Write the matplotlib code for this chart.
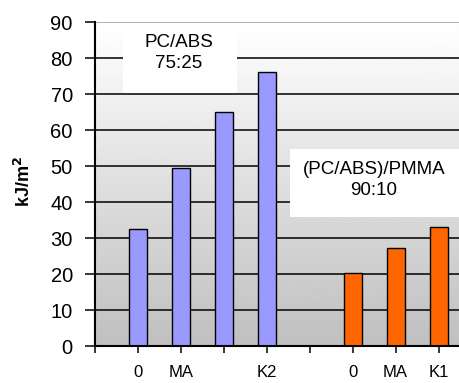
import numpy as np
import matplotlib.pyplot as plt
from matplotlib.patches import Rectangle

plt.rcParams['font.family'] = ['Liberation Sans', 'DejaVu Sans']

# 데이터
labels = ['0', 'MA', '', 'K2', '', '0', 'MA', 'K1']
pc_abs = [32.5, 49.5, 65, 76]        # PC/ABS 75:25
pmma_blend = [20.3, 27.3, 33]        # (PC/ABS)/PMMA 90:10
yticks = [0, 10, 20, 30, 40, 50, 60, 70, 80, 90]

fig = plt.figure(figsize=(4.6, 3.83), dpi=100)
ax = fig.add_axes([95 / 460, 1 - 346 / 383, 1 - 95 / 460, (346 - 22) / 383])

x_blue = np.arange(1, len(pc_abs) + 1)
x_orange = np.arange(len(labels) - len(pmma_blend) + 1, len(labels) + 1)

ax.set_xlim(0, 8.5)
ax.set_ylim(0, 90)

# 배경 그라데이션 (위: 흰색, 아래: 회색)
grad = np.linspace(1.0, 0.75, 256).reshape(-1, 1)
ax.imshow(grad, cmap='gray', vmin=0, vmax=1, aspect='auto',
          extent=[0, 8.5, 0, 90], zorder=0)

# 가로 격자선
for v in yticks[1:]:
    ax.axhline(v, color='#999999' if v == 90 else 'black', lw=1.1, zorder=1)

# 텍스트 상자 (흰 배경)
ax.add_patch(Rectangle((0.65, 70.3), 2.65, 19.3, facecolor='white',
                       edgecolor='none', zorder=2))
ax.add_patch(Rectangle((4.53, 35.8), 4.0, 18.8, facecolor='white',
                       edgecolor='none', zorder=2))
ax.text(1.95, 81.5, 'PC/ABS\n75:25', ha='center', va='center',
        fontsize=13.5, linespacing=1.3, zorder=3)
ax.text(6.5, 46.2, '(PC/ABS)/PMMA\n90:10', ha='center', va='center',
        fontsize=13.5, linespacing=1.3, zorder=3)

# 막대
ax.bar(x_blue, pc_abs, width=0.42, color='#9999ff', edgecolor='black',
       linewidth=1, zorder=4)
ax.bar(x_orange, pmma_blend, width=0.42, color='#ff6600', edgecolor='black',
       linewidth=1, zorder=4)

# 축
ax.set_yticks(yticks)
ax.set_yticklabels([str(v) for v in yticks], fontsize=14.5)
ax.set_xticks(range(0, len(labels) + 1))
ax.set_xticklabels([''] + labels, fontsize=12)
ax.tick_params(axis='y', direction='out', length=7, width=1.1, pad=9)
ax.tick_params(axis='x', direction='out', length=5, width=1.1, pad=9)
for s in ['top', 'right']:
    ax.spines[s].set_visible(False)
for s in ['left', 'bottom']:
    ax.spines[s].set_linewidth(1.5)
    ax.spines[s].set_zorder(5)

fig.text(24 / 460, 1 - 182 / 383, 'kJ/m$^\\mathbf{2}$', rotation=90,
         ha='center', va='center', fontsize=13, fontweight='bold')

plt.savefig('out.png', dpi=100)
